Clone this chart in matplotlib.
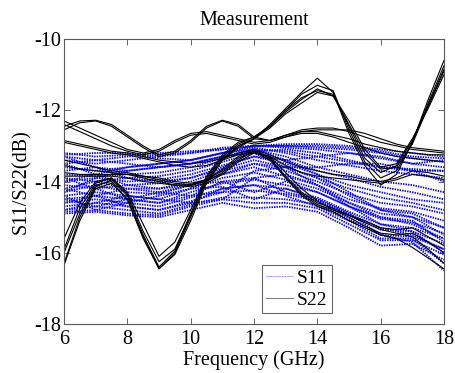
import numpy as np
import matplotlib
matplotlib.use("Agg")
import matplotlib.pyplot as plt

plt.rcParams['font.family'] = ['Liberation Serif', 'DejaVu Serif']

# frequency grids (GHz)
freq_s22 = np.arange(6.0, 18.01, 0.5)   # black curves, 25 points
freq_s11 = np.arange(6.0, 18.01, 1.0)   # blue curves, 13 points

# S22 (black)
s22_curves = [
    # dip at 9, peak at 14
    [-16.3, -15.0, -14.15, -13.95, -14.4, -15.5, -16.4, -15.95, -14.95, -13.95, -13.35, -13.0, -12.8,
     -12.4, -11.95, -11.5, -11.1, -11.5, -12.65, -13.55, -14.1, -13.8, -12.9, -11.7, -10.6],
    [-15.6, -14.6, -14.0, -13.9, -14.35, -15.4, -16.25, -15.9, -14.9, -13.9, -13.3, -12.95, -12.75,
     -12.45, -12.05, -11.7, -11.4, -11.6, -12.4, -13.2, -13.65, -13.6, -12.95, -11.9, -10.9],
    [-16.0, -14.9, -14.1, -14.0, -14.5, -15.55, -16.45, -16.0, -15.0, -14.0, -13.4, -13.0, -12.8,
     -12.5, -12.1, -11.8, -11.5, -11.6, -12.3, -13.1, -13.6, -13.5, -12.8, -11.95, -11.0],
    [-15.9, -14.75, -14.05, -13.9, -14.3, -15.2, -16.1, -15.7, -14.8, -13.85, -13.25, -12.9, -12.75,
     -12.45, -12.0, -11.65, -11.45, -11.55, -12.45, -13.35, -13.75, -13.55, -12.85, -11.85, -10.85],
    [-16.35, -15.1, -14.2, -14.05, -14.5, -15.6, -16.45, -16.05, -15.1, -14.05, -13.4, -13.05, -12.8,
     -12.45, -12.0, -11.55, -11.3, -11.45, -12.55, -13.45, -13.9, -13.7, -12.9, -11.8, -10.75],
    # flat near -14, node at 12, falling to 18
    [-13.4, -13.5, -13.6, -13.7, -13.75, -13.85, -13.95, -14.05, -14.1, -14.0, -13.75, -13.4, -13.15,
     -13.35, -13.85, -14.3, -14.6, -14.75, -14.95, -15.15, -15.35, -15.45, -15.55, -15.9, -16.3],
    [-13.55, -13.65, -13.7, -13.75, -13.8, -13.9, -14.0, -14.1, -14.15, -14.05, -13.8, -13.45, -13.2,
     -13.3, -13.75, -14.2, -14.55, -14.8, -15.0, -15.25, -15.45, -15.5, -15.45, -15.7, -16.0],
    [-13.75, -13.8, -13.8, -13.8, -13.8, -13.85, -13.9, -14.0, -14.05, -13.95, -13.7, -13.35, -13.15,
     -13.4, -13.9, -14.35, -14.65, -14.8, -14.95, -15.1, -15.3, -15.35, -15.3, -15.55, -15.8],
    [-13.85, -13.85, -13.85, -13.85, -13.9, -14.0, -14.05, -14.1, -14.1, -13.95, -13.65, -13.3, -13.1,
     -13.35, -13.9, -14.4, -14.7, -14.85, -15.1, -15.3, -15.5, -15.6, -15.85, -16.15, -16.45],
    # upper bundle
    [-12.55, -12.35, -12.3, -12.45, -12.75, -13.05, -13.3, -13.2, -12.9, -12.5, -12.3, -12.45, -12.8,
     -12.85, -12.75, -12.6, -12.55, -12.55, -12.55, -12.65, -12.8, -12.95, -13.05, -13.1, -13.15],
    [-12.45, -12.3, -12.28, -12.4, -12.7, -13.0, -13.25, -13.15, -12.85, -12.45, -12.28, -12.4, -12.75,
     -12.85, -12.7, -12.55, -12.5, -12.5, -12.6, -12.75, -12.9, -13.0, -13.1, -13.15, -13.2],
    [-12.3, -12.5, -12.7, -12.9, -13.1, -13.2, -13.1, -12.85, -12.65, -12.6, -12.7, -12.8, -12.9,
     -12.85, -12.7, -12.6, -12.6, -12.7, -12.8, -12.95, -13.05, -13.15, -13.2, -13.25, -13.25],
    [-12.4, -12.6, -12.8, -13.0, -13.15, -13.25, -13.15, -12.9, -12.7, -12.65, -12.75, -12.85, -12.95,
     -12.9, -12.75, -12.65, -12.65, -12.75, -12.9, -13.05, -13.2, -13.3, -13.35, -13.4, -13.45],
    # lower bundle to -13.8
    [-12.85, -12.95, -13.05, -13.15, -13.2, -13.3, -13.4, -13.45, -13.5, -13.45, -13.35, -13.2, -13.1,
     -13.25, -13.45, -13.6, -13.7, -13.8, -13.85, -13.95, -14.0, -13.9, -13.7, -13.75, -13.85],
    [-12.9, -13.0, -13.1, -13.2, -13.25, -13.35, -13.45, -13.55, -13.6, -13.55, -13.4, -13.25, -13.15,
     -13.3, -13.55, -13.75, -13.85, -13.9, -13.95, -14.0, -14.05, -13.95, -13.8, -13.85, -13.95],
]

# S11 (blue dotted)
s11_curves = [
    [-13.2, -13.3, -13.25, -13.2, -13.15, -13.1, -13.0, -12.95, -12.95, -13.0, -13.1, -13.2, -13.3],
    [-13.4, -13.5, -13.4, -13.3, -13.2, -13.05, -13.0, -13.05, -13.1, -13.2, -13.35, -13.5, -13.6],
    [-13.6, -13.7, -13.6, -13.5, -13.4, -13.2, -13.05, -13.2, -13.4, -13.55, -13.7, -13.8, -13.9],
    [-13.8, -13.85, -13.8, -13.75, -13.6, -13.35, -13.1, -13.3, -13.6, -13.8, -14.0, -14.1, -14.3],
    [-14.0, -13.9, -14.0, -13.95, -13.8, -13.55, -13.3, -13.5, -13.8, -14.1, -14.3, -14.5, -14.6],
    [-14.2, -14.0, -14.2, -14.2, -14.0, -13.7, -13.5, -13.7, -14.0, -14.35, -14.6, -14.7, -14.9],
    [-14.4, -14.3, -14.4, -14.5, -14.2, -13.9, -13.75, -13.95, -14.2, -14.6, -14.9, -15.0, -15.3],
    [-14.6, -14.5, -14.6, -14.7, -14.45, -14.2, -14.1, -14.2, -14.45, -14.85, -15.2, -15.3, -15.6],
    [-14.8, -14.7, -14.8, -14.9, -14.65, -14.45, -14.45, -14.5, -14.65, -15.05, -15.5, -15.55, -15.9],
    [-14.9, -14.85, -14.95, -15.0, -14.8, -14.6, -14.75, -14.7, -14.85, -15.3, -15.8, -15.75, -16.2],
    [-13.3, -13.6, -13.9, -14.0, -13.9, -13.6, -13.3, -13.4, -13.3, -13.2, -13.3, -13.5, -13.4],
    [-14.3, -13.9, -13.7, -13.6, -13.5, -13.3, -13.2, -13.6, -14.1, -14.7, -15.2, -15.4, -16.0],
    [-13.9, -14.2, -14.5, -14.6, -14.4, -14.0, -13.9, -14.3, -14.5, -14.9, -15.5, -15.7, -16.5],
    [-14.6, -14.4, -14.2, -14.3, -14.4, -14.3, -13.7, -13.6, -13.9, -14.4, -14.8, -14.9, -15.3],
    [-13.5, -13.4, -13.5, -13.6, -13.5, -13.3, -13.15, -13.1, -13.2, -13.4, -13.6, -13.7, -14.0],
    [-14.5, -14.7, -14.5, -14.3, -14.1, -14.0, -14.3, -14.0, -14.3, -14.7, -15.0, -15.2, -15.6],
    [-13.3, -13.4, -13.3, -13.25, -13.2, -13.1, -13.0, -13.0, -13.05, -13.1, -13.2, -13.35, -13.45],
    [-13.7, -13.6, -13.7, -13.6, -13.5, -13.3, -13.1, -13.15, -13.3, -13.45, -13.6, -13.65, -13.7],
    [-13.9, -14.0, -13.9, -13.85, -13.7, -13.45, -13.2, -13.4, -13.7, -13.9, -14.15, -14.3, -14.5],
    [-14.1, -14.2, -14.1, -14.05, -13.9, -13.65, -13.4, -13.6, -13.9, -14.2, -14.45, -14.6, -14.8],
    [-14.3, -14.1, -14.3, -14.35, -14.1, -13.8, -13.6, -13.85, -14.1, -14.5, -14.75, -14.85, -15.1],
    [-14.5, -14.4, -14.5, -14.6, -14.3, -14.05, -13.95, -14.1, -14.3, -14.7, -15.05, -15.15, -15.45],
    [-14.7, -14.6, -14.7, -14.8, -14.55, -14.3, -14.25, -14.35, -14.55, -14.95, -15.35, -15.4, -15.75],
    [-14.85, -14.8, -14.9, -14.95, -14.7, -14.5, -14.6, -14.6, -14.75, -15.2, -15.65, -15.65, -16.05],
    [-13.5, -13.8, -14.1, -14.2, -14.1, -13.8, -13.5, -13.6, -13.6, -13.5, -13.5, -13.7, -13.7],
    [-14.0, -13.8, -13.6, -13.5, -13.4, -13.2, -13.1, -13.4, -13.8, -14.3, -14.8, -15.0, -15.5],
    [-14.2, -14.4, -14.7, -14.8, -14.6, -14.2, -14.1, -14.4, -14.7, -15.1, -15.6, -15.6, -16.3],
    [-14.8, -14.6, -14.4, -14.5, -14.6, -14.5, -13.9, -13.8, -14.1, -14.6, -15.0, -15.1, -15.7],
    [-13.25, -13.2, -13.2, -13.35, -13.4, -13.2, -13.0, -13.0, -13.0, -13.05, -13.15, -13.3, -13.35],
    [-14.4, -14.8, -14.6, -14.4, -14.2, -14.15, -14.5, -14.2, -14.5, -14.9, -15.3, -15.5, -15.9],
]

fig = plt.figure(figsize=(4.56, 3.73), dpi=100)
ax = fig.add_axes([0.1404, 0.1314, 0.8333, 0.764])

for i, c in enumerate(s11_curves):
    ax.plot(freq_s11, c, color='blue', lw=1.3, linestyle=(0, (0.8, 0.6)),
            label='S11' if i == 0 else None)
for i, c in enumerate(s22_curves):
    ax.plot(freq_s22, c, color='black', lw=0.8,
            label='S22' if i == 0 else None)

ax.set_xlim(6, 18)
ax.set_ylim(-18, -10)
ax.set_xticks([6, 8, 10, 12, 14, 16, 18])
ax.set_yticks([-18, -16, -14, -12, -10])
ax.set_yticklabels(['-18', '-16', '-14', '-12', '-10'])
ax.tick_params(direction='in', top=True, right=True, length=4, width=0.6,
               labelsize=14.5, color='0.3')
ax.tick_params(axis='x', pad=4)
ax.tick_params(axis='y', pad=2)
for s in ax.spines.values():
    s.set_color('0.35')
    s.set_linewidth(0.8)

ax.set_title('Measurement', fontsize=14.5, pad=10)
ax.set_xlabel('Frequency (GHz)', fontsize=14.5, labelpad=1.5)
ax.set_ylabel('S11/S22(dB)', fontsize=14.5, labelpad=2)

leg = ax.legend(loc='lower left', bbox_to_anchor=(0.521, 0.038), fontsize=14,
                handlelength=1.4, handletextpad=0.2, labelspacing=0.25,
                borderpad=0.2, borderaxespad=0, fancybox=False, framealpha=1)
leg.get_frame().set_edgecolor('0.4')
leg.get_frame().set_linewidth(0.8)
leg.get_lines()[0].set_linewidth(0.8)
leg.get_lines()[0].set_alpha(0.5)
leg.get_lines()[1].set_color('0.5')

fig.savefig('out.png', dpi=100)
